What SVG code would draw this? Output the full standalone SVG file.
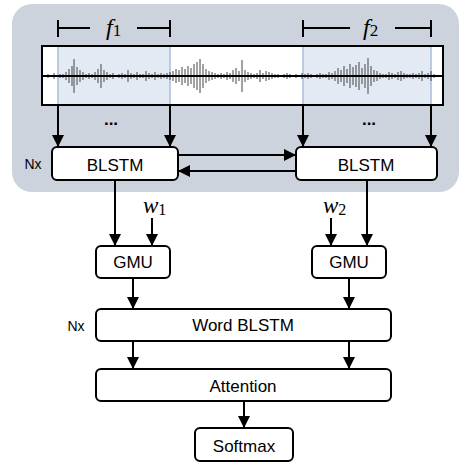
<svg xmlns="http://www.w3.org/2000/svg" width="469" height="463" viewBox="0 0 469 463">
<style>
.box{fill:#fff;stroke:#000;stroke-width:2}
.lbl{font-family:"Liberation Sans",Arial,sans-serif;font-size:17px;fill:#000;text-anchor:middle}
.nx{font-family:"Liberation Sans",Arial,sans-serif;font-size:14px;fill:#000;text-anchor:middle}
.math{font-family:"Liberation Serif","Times New Roman",serif;fill:#000}
.con{stroke:#000;stroke-width:2;fill:none}
.hl{fill:#c9d5e8;fill-opacity:0.5;stroke:#a9bdd8;stroke-width:1.5}
</style>
<defs>
<marker id="ah" markerUnits="userSpaceOnUse" markerWidth="12" markerHeight="14" viewBox="0 0 12 14" refX="12" refY="7" orient="auto">
<path d="M0 1 L12 7 L0 13 Z" fill="#000"/>
</marker>
</defs>
<rect x="0" y="0" width="469" height="463" fill="#fff"/>
<g id="panel">
<rect x="12" y="4" width="447" height="188" rx="20" fill="#cdd3dc"/>
</g>
<g id="waveform">
<rect x="42" y="46" width="401" height="59" fill="#fff"/>
<rect class="hl" x="58" y="46" width="112" height="59"/>
<rect class="hl" x="303" y="46" width="128" height="59"/>
<path stroke="#444" stroke-width="1" fill="none" d="M45 75V77M48 74V78M51 75V77M54 73V79M57 75V77M60 74V78M63 74V78M66 72V80M69 69V83M72 66V86M74 59V93M77 67V85M80 70V82M83 72V80M86 74V78M89 73V79M92 74V78M95 72V80M98 69V83M101 64V88M104 70V82M107 72V80M110 74V78M113 73V79M116 75V77M119 74V78M122 73V79M125 74V78M128 70V82M131 73V79M134 74V78M137 72V80M140 74V78M143 74V78M146 71V81M149 73V79M152 74V78M155 72V80M158 74V78M161 73V79M164 74V78M167 73V79M170 72V80M173 71V81M176 69V83M179 70V82M182 67V85M185 69V83M188 66V86M191 68V84M194 64V88M197 62V90M200 59V93M203 64V88M206 69V83M209 71V81M212 72V80M215 73V79M218 74V78M221 73V79M224 74V78M227 72V80M230 73V79M233 70V82M236 68V84M239 71V81M242 60V92M245 70V82M248 72V80M251 73V79M254 74V78M257 73V79M260 70V82M263 73V79M266 71V81M269 72V80M272 73V79M275 74V78M278 74V78M281 75V77M284 74V78M287 73V79M290 74V78M293 75V77M296 74V78M299 75V77M302 73V79M305 74V78M308 73V79M311 74V78M314 75V77M317 74V78M320 73V79M323 74V78M326 74V78M329 72V80M332 73V79M335 71V81M338 68V84M341 70V82M344 66V86M347 69V83M350 64V88M353 67V85M356 65V87M359 62V90M362 68V84M365 64V88M368 58V94M371 66V86M374 70V82M377 71V81M380 73V79M383 74V78M386 74V78M389 72V80M392 73V79M395 74V78M398 72V80M401 71V81M404 73V79M407 74V78M410 74V78M413 73V79M416 74V78M419 73V79M422 71V81M425 74V78M428 73V79M431 71V81M434 74V78M437 75V77M440 75V77"/>
<line x1="42" y1="76" x2="443" y2="76" stroke="#000" stroke-width="2"/>
<rect x="42" y="46" width="401" height="59" fill="none" stroke="#000" stroke-width="2"/>
</g>
<g id="f1">
<path class="con" d="M58 20V37M58 28H90M137 28H170M170 20V37" stroke-width="1.6"/>
<text class="math" x="106" y="35" font-size="24"><tspan font-style="italic">f</tspan><tspan font-size="17" dy="1">1</tspan></text>
</g>
<g id="f2">
<path class="con" d="M303 20V37M303 28H350M395 28H431M431 20V37" stroke-width="1.6"/>
<text class="math" x="363" y="35" font-size="24"><tspan font-style="italic">f</tspan><tspan font-size="17" dy="1">2</tspan></text>
</g>
<g id="dots">
<text class="lbl" x="111" y="125" font-weight="bold" font-size="14">...</text>
<text class="lbl" x="369" y="125" font-weight="bold" font-size="14">...</text>
</g>
<g id="blstm1">
<rect class="box" x="52" y="147" width="126" height="33" rx="5"/>
<text class="lbl" x="115" y="171">BLSTM</text>
</g>
<g id="blstm2">
<rect class="box" x="296" y="147" width="141" height="33" rx="5"/>
<text class="lbl" x="366" y="171">BLSTM</text>
</g>
<text class="nx" x="33" y="169">Nx</text>
<g id="w1">
<text class="math" x="143" y="213" font-size="23"><tspan font-style="italic">w</tspan><tspan font-size="16" dy="2">1</tspan></text>
</g>
<g id="w2">
<text class="math" x="323" y="213" font-size="23"><tspan font-style="italic">w</tspan><tspan font-size="16" dy="2">2</tspan></text>
</g>
<g id="gmu1">
<rect class="box" x="96" y="246" width="74" height="32" rx="5"/>
<text class="lbl" x="133" y="268">GMU</text>
</g>
<g id="gmu2">
<rect class="box" x="312" y="246" width="74" height="32" rx="5"/>
<text class="lbl" x="349" y="268">GMU</text>
</g>
<g id="wordblstm">
<rect class="box" x="96" y="309" width="295" height="32" rx="5"/>
<text class="lbl" x="243" y="331">Word BLSTM</text>
</g>
<text class="nx" x="76" y="331">Nx</text>
<g id="attention">
<rect class="box" x="96" y="369" width="295" height="32" rx="5"/>
<text class="lbl" x="243" y="392">Attention</text>
</g>
<g id="softmax">
<rect class="box" x="195" y="428" width="98" height="33" rx="5"/>
<text class="lbl" x="244" y="452">Softmax</text>
</g>
<g id="connectors">
<line class="con" x1="58" y1="105" x2="58" y2="147" marker-end="url(#ah)"/>
<line class="con" x1="170" y1="105" x2="170" y2="147" marker-end="url(#ah)"/>
<line class="con" x1="303" y1="105" x2="303" y2="147" marker-end="url(#ah)"/>
<line class="con" x1="431" y1="105" x2="431" y2="147" marker-end="url(#ah)"/>
<line class="con" x1="178" y1="155" x2="296" y2="155" marker-end="url(#ah)"/>
<line class="con" x1="296" y1="171" x2="178" y2="171" marker-end="url(#ah)"/>
<line class="con" x1="115" y1="180" x2="115" y2="246" marker-end="url(#ah)"/>
<line class="con" x1="152" y1="218" x2="152" y2="246" marker-end="url(#ah)"/>
<line class="con" x1="367" y1="180" x2="367" y2="246" marker-end="url(#ah)"/>
<line class="con" x1="331" y1="218" x2="331" y2="246" marker-end="url(#ah)"/>
<line class="con" x1="133" y1="278" x2="133" y2="309" marker-end="url(#ah)"/>
<line class="con" x1="349" y1="278" x2="349" y2="309" marker-end="url(#ah)"/>
<line class="con" x1="133" y1="341" x2="133" y2="369" marker-end="url(#ah)"/>
<line class="con" x1="349" y1="341" x2="349" y2="369" marker-end="url(#ah)"/>
<line class="con" x1="244" y1="401" x2="244" y2="428" marker-end="url(#ah)"/>
</g>
</svg>
